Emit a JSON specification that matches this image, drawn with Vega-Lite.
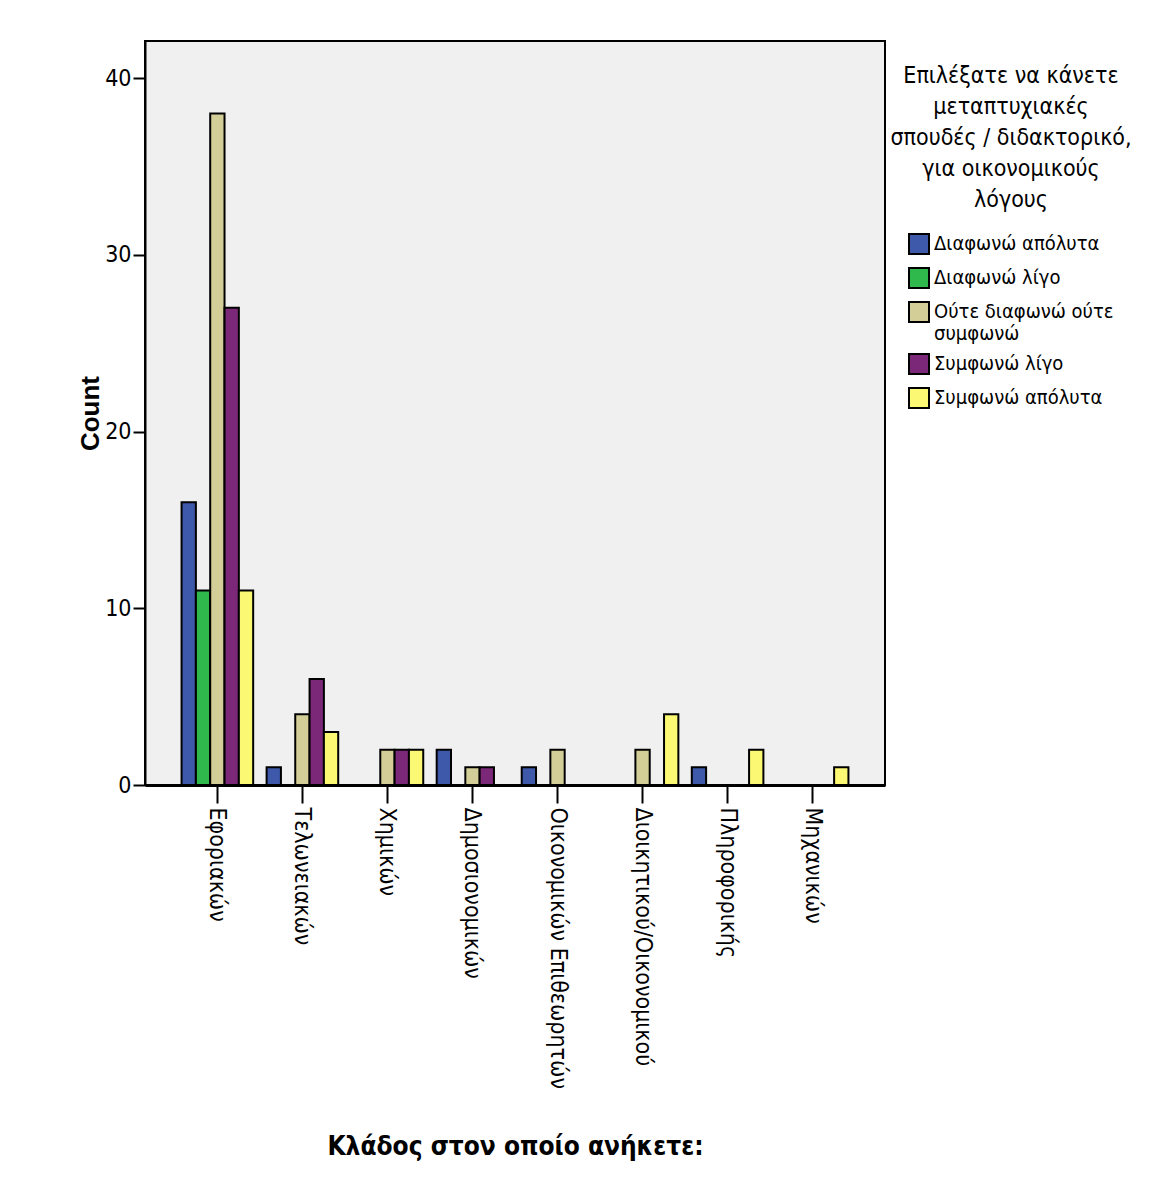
{
  "$schema": "https://vega.github.io/schema/vega-lite/v6.json",
  "width": 740,
  "height": 744,
  "autosize": {"type": "none"},
  "padding": {"left": 145, "top": 41, "right": 276, "bottom": 404},
  "background": "white",
  "config": {
    "view": {"fill": "#F0F0F0", "stroke": "black", "strokeWidth": 2},
    "font": "DejaVu Sans Condensed"
  },
  "data": {
    "values": [
      {"klados": "Εφοριακών", "apantisi": "Διαφωνώ απόλυτα", "count": 16},
      {"klados": "Εφοριακών", "apantisi": "Διαφωνώ λίγο", "count": 11},
      {"klados": "Εφοριακών", "apantisi": "Ούτε διαφωνώ ούτε συμφωνώ", "count": 38},
      {"klados": "Εφοριακών", "apantisi": "Συμφωνώ λίγο", "count": 27},
      {"klados": "Εφοριακών", "apantisi": "Συμφωνώ απόλυτα", "count": 11},
      {"klados": "Τελωνειακών", "apantisi": "Διαφωνώ απόλυτα", "count": 1},
      {"klados": "Τελωνειακών", "apantisi": "Ούτε διαφωνώ ούτε συμφωνώ", "count": 4},
      {"klados": "Τελωνειακών", "apantisi": "Συμφωνώ λίγο", "count": 6},
      {"klados": "Τελωνειακών", "apantisi": "Συμφωνώ απόλυτα", "count": 3},
      {"klados": "Χημικών", "apantisi": "Ούτε διαφωνώ ούτε συμφωνώ", "count": 2},
      {"klados": "Χημικών", "apantisi": "Συμφωνώ λίγο", "count": 2},
      {"klados": "Χημικών", "apantisi": "Συμφωνώ απόλυτα", "count": 2},
      {"klados": "Δημοσιονομικών", "apantisi": "Διαφωνώ απόλυτα", "count": 2},
      {"klados": "Δημοσιονομικών", "apantisi": "Ούτε διαφωνώ ούτε συμφωνώ", "count": 1},
      {"klados": "Δημοσιονομικών", "apantisi": "Συμφωνώ λίγο", "count": 1},
      {"klados": "Οικονομικών  Επιθεωρητών", "apantisi": "Διαφωνώ απόλυτα", "count": 1},
      {"klados": "Οικονομικών  Επιθεωρητών", "apantisi": "Ούτε διαφωνώ ούτε συμφωνώ", "count": 2},
      {"klados": "Διοικητικού/Οικονομικού", "apantisi": "Ούτε διαφωνώ ούτε συμφωνώ", "count": 2},
      {"klados": "Διοικητικού/Οικονομικού", "apantisi": "Συμφωνώ απόλυτα", "count": 4},
      {"klados": "Πληροφορικής", "apantisi": "Διαφωνώ απόλυτα", "count": 1},
      {"klados": "Πληροφορικής", "apantisi": "Συμφωνώ απόλυτα", "count": 2},
      {"klados": "Μηχανικών", "apantisi": "Συμφωνώ απόλυτα", "count": 1}
    ]
  },
  "mark": {"type": "bar", "stroke": "black", "strokeWidth": 2, "strokeOpacity": 1},
  "encoding": {
    "x": {
      "field": "klados",
      "type": "nominal",
      "scale": {
        "domain": ["Εφοριακών", "Τελωνειακών", "Χημικών", "Δημοσιονομικών", "Οικονομικών  Επιθεωρητών", "Διοικητικού/Οικονομικού", "Πληροφορικής", "Μηχανικών"],
        "paddingInner": 0.158,
        "paddingOuter": 0.43
      },
      "axis": {
        "title": "Κλάδος στον οποίο ανήκετε:",
        "titleFont": "DejaVu Sans Condensed",
        "titleFontSize": 26,
        "titleFontWeight": "bold",
        "titleColor": "black",
        "titleY": 361,
        "titleBaseline": "middle",
        "labelAngle": 90,
        "labelAlign": "left",
        "labelBaseline": "middle",
        "labelFontSize": 23,
        "labelColor": "black",
        "labelPadding": 4,
        "labelLimit": 0,
        "tickSize": 18,
        "tickWidth": 2,
        "tickColor": "black",
        "domainColor": "black",
        "domainWidth": 3,
        "grid": false
      }
    },
    "xOffset": {
      "field": "apantisi",
      "type": "nominal",
      "scale": {
        "domain": ["Διαφωνώ απόλυτα", "Διαφωνώ λίγο", "Ούτε διαφωνώ ούτε συμφωνώ", "Συμφωνώ λίγο", "Συμφωνώ απόλυτα"],
        "paddingInner": 0,
        "paddingOuter": 0
      }
    },
    "y": {
      "field": "count",
      "type": "quantitative",
      "scale": {"domain": [0, 42.1], "nice": false},
      "axis": {
        "title": "Count",
        "titleFont": "Liberation Sans",
        "titleFontSize": 26,
        "titleFontWeight": "bold",
        "titleColor": "black",
        "titleX": -55,
        "titleBaseline": "middle",
        "values": [0, 10, 20, 30, 40],
        "labelFontSize": 23,
        "labelColor": "black",
        "labelPadding": 2,
        "tickSize": 12,
        "tickWidth": 2,
        "tickColor": "black",
        "domainColor": "black",
        "domainWidth": 2,
        "grid": false
      }
    },
    "color": {
      "field": "apantisi",
      "type": "nominal",
      "scale": {
        "domain": ["Διαφωνώ απόλυτα", "Διαφωνώ λίγο", "Ούτε διαφωνώ ούτε συμφωνώ", "Συμφωνώ λίγο", "Συμφωνώ απόλυτα"],
        "range": ["#3E58AA", "#2FB84B", "#D3CE97", "#7C2878", "#FBF873"]
      },
      "legend": {
        "orient": "none",
        "legendX": 745,
        "legendY": 24,
        "title": ["Επιλέξατε να κάνετε", "μεταπτυχιακές", "σπουδές / διδακτορικό,", "για οικονομικούς", "λόγους"],
        "titleFont": "DejaVu Sans Condensed",
        "titleFontSize": 23,
        "titleFontWeight": "normal",
        "titleColor": "black",
        "titleAlign": "center",
        "titleAnchor": "middle",
        "titleLineHeight": 31,
        "titleLimit": 0,
        "titlePadding": 21,
        "labelFont": "DejaVu Sans Condensed",
        "labelFontSize": 20,
        "labelColor": "black",
        "labelLimit": 0,
        "labelOffset": 4,
        "labelExpr": "datum.label == 'Ούτε διαφωνώ ούτε συμφωνώ' ? ['Ούτε διαφωνώ ούτε', 'συμφωνώ'] : datum.label",
        "symbolType": "square",
        "symbolSize": 400,
        "symbolStrokeColor": "black",
        "symbolStrokeWidth": 2,
        "symbolOpacity": 1,
        "symbolFillOpacity": 1,
        "rowPadding": 6,
        "padding": 0
      }
    }
  }
}
